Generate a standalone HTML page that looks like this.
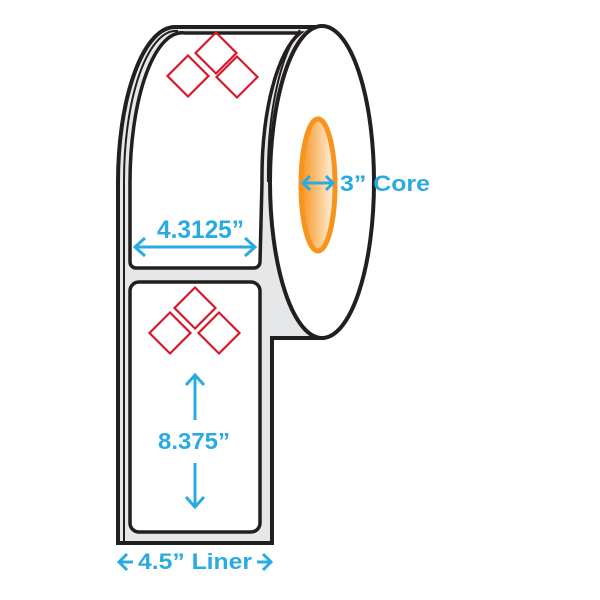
<!DOCTYPE html>
<html><head><style>
html,body{margin:0;padding:0;background:#fff;}
svg{display:block;}
text{font-family:"Liberation Sans",sans-serif;font-weight:bold;fill:#29abe2;}
</style></head><body>
<svg width="600" height="600" viewBox="0 0 600 600">
<defs>
<linearGradient id="g" x1="0" x2="1" y1="0" y2="0">
<stop offset="0" stop-color="#f7941d"/><stop offset="1" stop-color="#fff4e6"/>
</linearGradient>
</defs>
<path d="M175,27 L322,27 L322,338 L272,338 L272,543 L118,543 L118,182 A57,155 0 0 1 175,27 Z" fill="#e6e7e8" stroke="#231f20" stroke-width="4"/>
<path d="M124,543 L124,182 A52,150 0 0 1 178,31" fill="none" stroke="#231f20" stroke-width="2"/>
<path d="M136,268 L254,268 A6,6 0 0 0 260,262 L262,182 A52,150 0 0 1 300,33 L185,33 A52,150 0 0 0 130,182 L130,262 A6,6 0 0 0 136,268 Z" fill="#fff" stroke="#231f20" stroke-width="3.5"/>
<ellipse cx="322" cy="182" rx="52" ry="156" fill="#fff" stroke="#231f20" stroke-width="4"/>
<path d="M300,30 A52,156 0 0 0 268,182" fill="none" stroke="#231f20" stroke-width="2"/>
<rect x="130" y="282" width="130" height="250" rx="9" fill="#fff" stroke="#231f20" stroke-width="3.5"/>
<ellipse cx="318" cy="185" rx="17" ry="66" fill="url(#g)" stroke="#f7941d" stroke-width="5"/>
<g fill="none" stroke="#d7182a" stroke-width="2.2">
<rect x="-14.5" y="-14.5" width="29" height="29" transform="translate(188,76) rotate(45)"/>
<rect x="-14.5" y="-14.5" width="29" height="29" transform="translate(216,53) rotate(45)"/>
<rect x="-14.5" y="-14.5" width="29" height="29" transform="translate(237,77) rotate(45)"/>
<rect x="-14.5" y="-14.5" width="29" height="29" transform="translate(170,333) rotate(45)"/>
<rect x="-14.5" y="-14.5" width="29" height="29" transform="translate(195,308) rotate(45)"/>
<rect x="-14.5" y="-14.5" width="29" height="29" transform="translate(219,333) rotate(45)"/>
</g>
<g stroke="#29abe2" stroke-width="3" fill="none">
<line x1="135" y1="247" x2="255" y2="247"/>
<polyline points="145,238 135,247 145,256"/><polyline points="245,238 255,247 245,256"/>
<line x1="303" y1="183" x2="333" y2="183"/>
<polyline points="310,176 303,183 310,190"/><polyline points="326,176 333,183 326,190"/>
<line x1="195" y1="375" x2="195" y2="420"/>
<polyline points="186,385 195,375 204,385"/>
<line x1="195" y1="463" x2="195" y2="507"/>
<polyline points="186,497 195,507 204,497"/>
<line x1="119" y1="562" x2="133" y2="562"/>
<polyline points="127,554 119,562 127,570"/>
<line x1="257" y1="562" x2="271" y2="562"/>
<polyline points="263,554 271,562 263,570"/>
</g>
<text x="157" y="238" font-size="25" textLength="87" lengthAdjust="spacingAndGlyphs">4.3125”</text>
<text x="340" y="191" font-size="22" textLength="90" lengthAdjust="spacingAndGlyphs">3” Core</text>
<text x="158" y="449" font-size="23" textLength="72" lengthAdjust="spacingAndGlyphs">8.375”</text>
<text x="138" y="569" font-size="22" textLength="114" lengthAdjust="spacingAndGlyphs">4.5” Liner</text>
</svg>
</body></html>
